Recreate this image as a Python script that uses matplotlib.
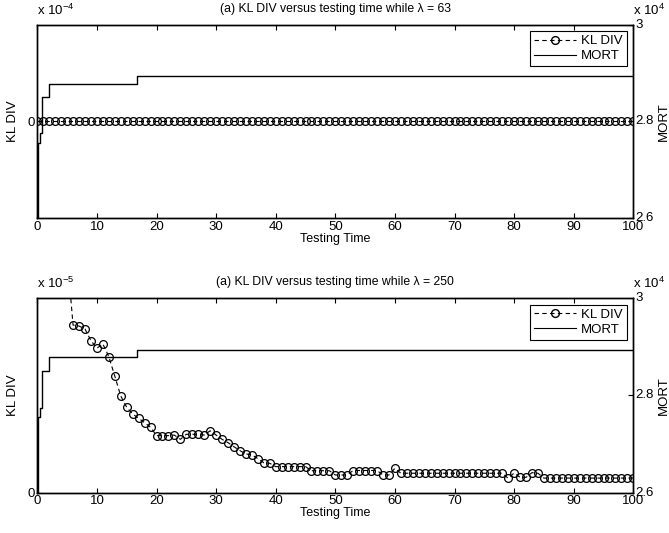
import matplotlib
matplotlib.use("Agg")
import matplotlib.pyplot as plt
from matplotlib.lines import Line2D
import numpy as np

plt.rcParams['font.family'] = ['Liberation Sans', 'DejaVu Sans']
plt.rcParams['mathtext.fontset'] = 'custom'
plt.rcParams['mathtext.rm'] = 'Liberation Sans'
plt.rcParams['mathtext.it'] = 'Liberation Sans'

# ---------------- data ----------------
testing_time = list(range(0, 101))

kl_div_63 = [0.0] * 101  # units of 1e-4

# units of 1e-5 (axis top = 2.0)
kl_div_250 = [
    5.00, 4.00, 3.40, 2.90, 2.70, 2.44,                        # 0-5 (off the top)
    1.722, 1.712, 1.682, 1.562, 1.484, 1.528, 1.398, 1.198, 0.994, 0.878,  # 6-15
    0.808, 0.764, 0.720, 0.672, 0.586, 0.586, 0.586, 0.592, 0.548, 0.600,  # 16-25
    0.600, 0.600, 0.592, 0.636, 0.592, 0.548, 0.514, 0.472, 0.432, 0.398,  # 26-35
    0.390, 0.350, 0.308, 0.302, 0.268, 0.268, 0.268, 0.268, 0.268, 0.268,  # 36-45
    0.226, 0.226, 0.226, 0.226, 0.182, 0.182, 0.182, 0.228, 0.228, 0.228,  # 46-55
    0.228, 0.228, 0.182, 0.182, 0.250, 0.200, 0.200, 0.200, 0.200, 0.200,  # 56-65
    0.200, 0.200, 0.200, 0.200, 0.200, 0.200, 0.200, 0.200, 0.200, 0.200,  # 66-75
    0.200, 0.200, 0.200, 0.148, 0.202, 0.158, 0.158, 0.206, 0.200, 0.150,  # 76-85
    0.150, 0.150, 0.150, 0.150, 0.150, 0.150, 0.150, 0.150, 0.150, 0.150,  # 86-95
    0.150, 0.150, 0.150, 0.150, 0.150,                                     # 96-100
]

mort_time = [0, 0.08, 0.5, 0.85, 2.0, 16.8, 100]
mort_value = [25500, 27550, 27750, 28500, 28780, 28940, 28940]

titles = ["(a) KL DIV versus testing time while λ = 63",
          "(a) KL DIV versus testing time while λ = 250"]
kl_exponents = ["-4", "-5"]
kl_ylims = [(-1.0, 1.0), (0.0, 2.0)]
x_ticks = list(range(0, 101, 10))
mort_ticks = [26000, 28000, 30000]
mort_ticklabels = ["2.6", "2.8", "3"]

W, H = 669, 533
fig = plt.figure(figsize=(W / 100, H / 100), dpi=100)

axes_px = [(37.3, 24.5, 633.3, 218.0), (37.3, 298.0, 633.3, 492.7)]
kl_series = [kl_div_63, kl_div_250]

FS = 9.5
for i in range(2):
    l, t, r, b = axes_px[i]
    ax = fig.add_axes([l / W, 1 - b / H, (r - l) / W, (b - t) / H])
    ax2 = ax.twinx()
    ax.set_zorder(ax2.get_zorder() + 1)
    ax.patch.set_visible(False)

    ax.plot(testing_time, kl_series[i], linestyle=(0, (4, 3)), color='black',
            lw=0.8, marker='o', markersize=5.6, markerfacecolor='none',
            markeredgewidth=0.9, clip_on=True)
    ax.set_xlim(0, 100)
    ax.set_ylim(*kl_ylims[i])
    ax.set_yticks([0])
    ax.set_yticklabels(["0"])
    ax.set_xticks(x_ticks)
    ax.set_xticklabels([str(v) for v in x_ticks])
    ax.tick_params(axis='x', direction='in', length=3.6, width=0.8,
                   top=True, labelsize=FS, pad=2)
    ax.tick_params(axis='y', direction='in', length=3.6, width=0.8,
                   labelsize=FS, pad=2)
    ax.set_xlabel("Testing Time", fontsize=9, labelpad=0)
    ax.set_ylabel("KL DIV", fontsize=FS, labelpad=6)
    ax.set_title(titles[i], fontsize=8.8, pad=9)

    ax2.step(mort_time, mort_value, where='post', color='black', lw=1.0)
    ax2.set_ylim(26000, 30000)
    ax2.set_yticks(mort_ticks)
    ax2.set_yticklabels(mort_ticklabels)
    ax2.tick_params(axis='y', direction='in', length=3.6, width=0.8,
                    labelsize=FS, pad=1.5)
    for lab in ax2.get_yticklabels():
        lab.set_va('center')
    ax2.set_ylabel("MORT", fontsize=FS, labelpad=3)

    for a in (ax, ax2):
        for s in a.spines.values():
            s.set_linewidth(1.0)

    ax.text(0.0, 1.035, r"x 10$^{%s}$" % kl_exponents[i], transform=ax.transAxes,
            fontsize=9.5, ha='left', va='bottom')
    ax2.text(1.0, 1.035, r"x 10$^{4}$", transform=ax2.transAxes,
             fontsize=9.5, ha='left', va='bottom')

    handles = [Line2D([], [], linestyle=(0, (4, 3)), color='black', lw=0.8,
                      marker='o', markersize=5.6, markerfacecolor='none'),
               Line2D([], [], color='black', lw=0.8)]
    leg = ax.legend(handles, ["KL DIV", "MORT"], loc='upper right',
                    fontsize=FS, frameon=True, fancybox=False,
                    edgecolor='black', framealpha=1, borderpad=0.3,
                    labelspacing=0.2, handlelength=3.2, handletextpad=0.4,
                    borderaxespad=0.5)
    leg.get_frame().set_linewidth(0.8)

fig.savefig("out.png", dpi=100)
